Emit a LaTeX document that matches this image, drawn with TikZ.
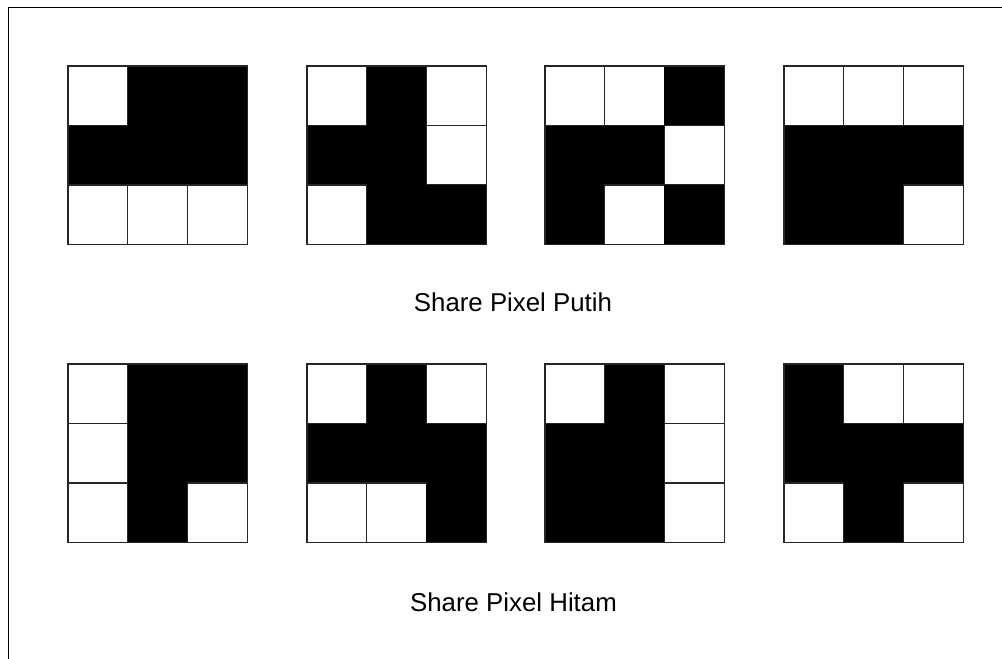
\documentclass[tikz,border=0pt]{standalone}
\usepackage{fontspec}
\setmainfont{Liberation Sans}
\usetikzlibrary{positioning}

\begin{document}
\begin{tikzpicture}[
    x=0.02cm, y=-0.02cm,
    pix/.style={draw=black!85, line width=0.6pt},
    lbl/.style={font=\fontsize{14.7}{17}\selectfont, anchor=center},
]
\useasboundingbox (0,0) rectangle (1002,659);
\clip (0,0) rectangle (1002,659);
% outer frame
\draw[line width=0.8pt] (8.5,7.5) rectangle (1010,670);

% shares: top-left corner / cells row by row (1 = black)
\foreach \gx/\gy/\pat in {
    68/66/{0,1,1,1,1,1,0,0,0},
    307/66/{0,1,0,1,1,0,0,1,1},
    545/66/{0,0,1,1,1,0,1,0,1},
    784/66/{0,0,0,1,1,1,1,1,0},
    68/364/{0,1,1,0,1,1,0,1,0},
    307/364/{0,1,0,1,1,1,0,0,1},
    545/364/{0,1,0,1,1,0,1,1,0},
    784/364/{1,0,0,1,1,1,0,1,0}}{
  \foreach \v [count=\k from 0] in \pat {
    \pgfmathtruncatemacro{\col}{mod(\k,3)}
    \pgfmathtruncatemacro{\row}{div(\k,3)}
    \ifnum\v=1
      \fill[black] ({\gx+\col*59.7},{\gy+\row*59.5}) rectangle ++(59.7,59.5);
    \else
      \draw[pix, fill=white] ({\gx+\col*59.7},{\gy+\row*59.5}) rectangle ++(59.7,59.5);
    \fi
  }
  \draw[pix] (\gx,\gy) rectangle ++(179.1,178.5);
}

\node[lbl] (putih) at (513,302) {Share Pixel Putih};
\node[lbl] (hitam) at (513.5,602) {Share Pixel Hitam};
\end{tikzpicture}
\end{document}
